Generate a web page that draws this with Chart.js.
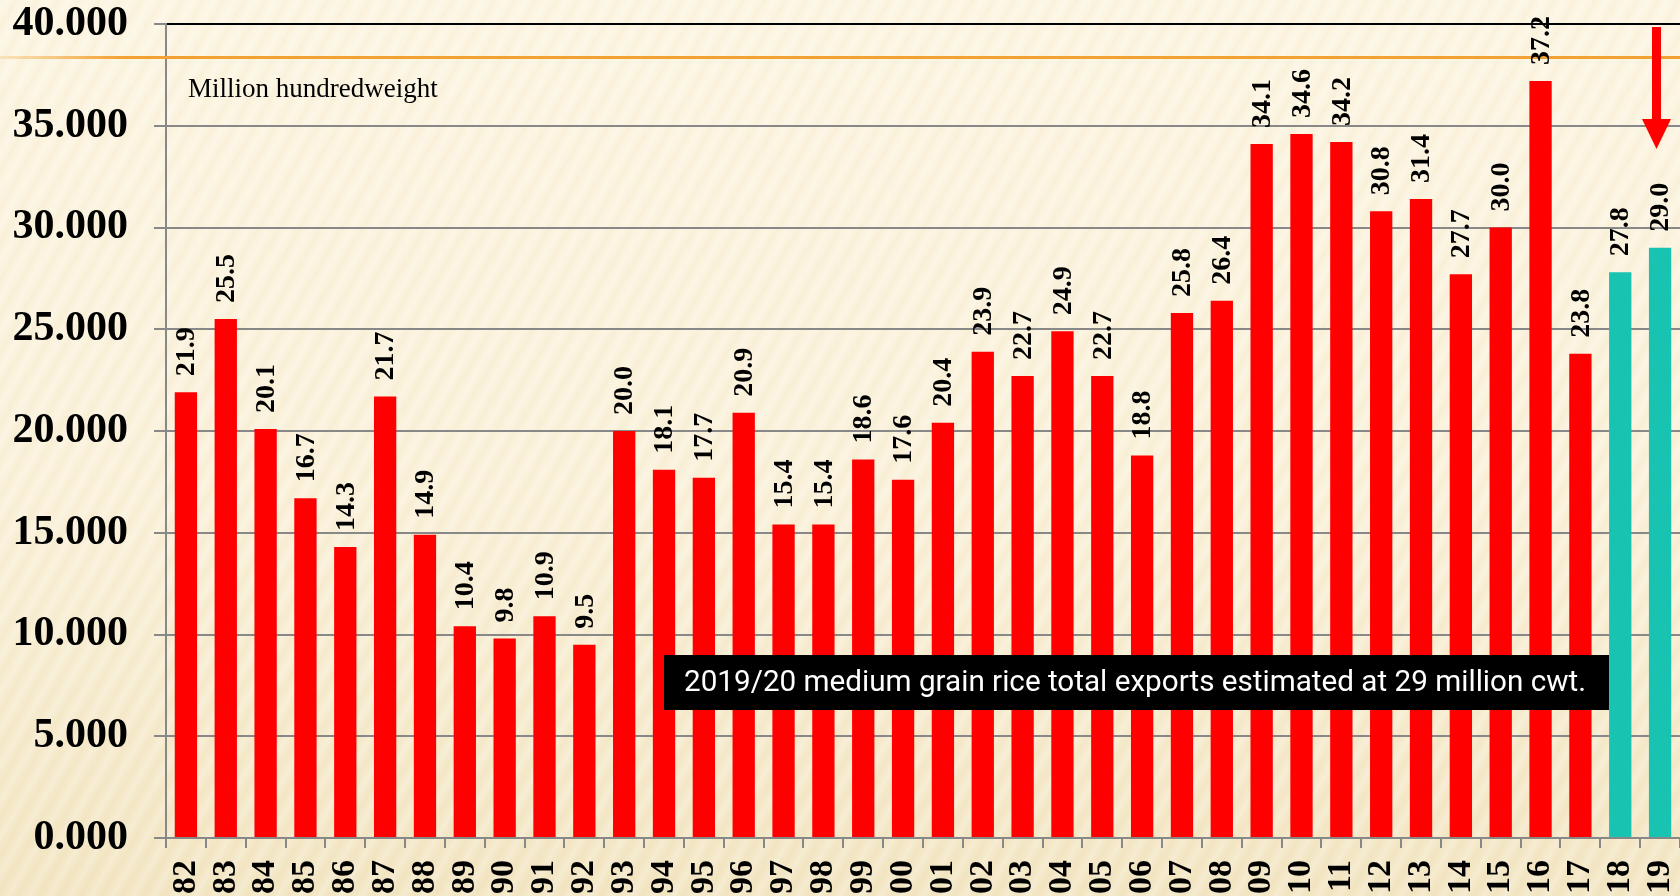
<!DOCTYPE html>
<html>
<head>
<meta charset="utf-8">
<title>Medium grain rice exports</title>
<script src="https://cdn.jsdelivr.net/npm/chart.js@4.4.1/dist/chart.umd.min.js"></script>
<style>
  html, body { margin: 0; padding: 0; }
  body {
    width: 1680px;
    height: 896px;
    overflow: hidden;
    background:
      repeating-linear-gradient(120deg, rgba(255,255,255,0.0) 0px, rgba(255,255,255,0.22) 5px, rgba(255,255,255,0.0) 10px, rgba(222,204,156,0.09) 14px, rgba(255,255,255,0.0) 18px),
      linear-gradient(180deg, #fcf5e2 0%, #faf1da 55%, #f3e6c4 100%);
  }
  #wrap { position: absolute; left: 0; top: 0; width: 1680px; height: 896px; }
</style>
</head>
<body>
<div id="wrap"><canvas id="riceExportsChart" width="1680" height="896"></canvas></div>
<script>
const years = ['82', '83', '84', '85', '86', '87', '88', '89', '90', '91', '92', '93', '94', '95', '96', '97', '98', '99',
  '00', '01', '02', '03', '04', '05', '06', '07', '08', '09', '10', '11', '12', '13', '14', '15', '16', '17', '18', '19'];
const exportsCwt = [21.9, 25.5, 20.1, 16.7, 14.3, 21.7, 14.9, 10.4, 9.8, 10.9, 9.5, 20.0, 18.1, 17.7, 20.9, 15.4, 15.4, 18.6,
  17.6, 20.4, 23.9, 22.7, 24.9, 22.7, 18.8, 25.8, 26.4, 34.1, 34.6, 34.2, 30.8, 31.4, 27.7, 30.0, 37.2, 23.8, 27.8, 29.0];
const projectedYears = ['18', '19'];
const yTicks = [0, 5, 10, 15, 20, 25, 30, 35, 40];
const unitLabel = 'Million hundredweight';
const noteText = '2019/20 medium grain rice total exports estimated at 29 million cwt.';

const RED = '#ff0000';
const TEAL = '#19c3b1';
const SERIF = '"Liberation Serif", "Times New Roman", serif';

const barColors = years.map(y => projectedYears.includes(y) ? TEAL : RED);

// value labels, rotated, sitting above each bar
const barValueLabels = {
  id: 'barValueLabels',
  afterDatasetsDraw(chart) {
    const ctx = chart.ctx;
    const meta = chart.getDatasetMeta(0);
    ctx.save();
    ctx.fillStyle = '#000';
    ctx.font = 'bold 28px ' + SERIF;
    ctx.textAlign = 'left';
    ctx.textBaseline = 'middle';
    meta.data.forEach((bar, i) => {
      ctx.save();
      ctx.translate(bar.x, bar.y - 16);
      ctx.rotate(-Math.PI / 2);
      ctx.fillText(exportsCwt[i].toFixed(1), 0, 1);
      ctx.restore();
    });
    ctx.restore();
  }
};

// slide decorations: orange rule, unit caption, note box and arrow
const decorations = {
  id: 'decorations',
  beforeDatasetsDraw(chart) {
    const ctx = chart.ctx;
    const area = chart.chartArea;
    ctx.save();
    const grad = ctx.createLinearGradient(0, 0, 120, 0);
    grad.addColorStop(0, 'rgba(242,162,51,0.2)');
    grad.addColorStop(1, 'rgba(242,162,51,1)');
    ctx.fillStyle = grad;
    ctx.fillRect(0, 56, chart.width, 3);

    ctx.fillStyle = '#000';
    ctx.font = '27px ' + SERIF;
    ctx.textAlign = 'left';
    ctx.textBaseline = 'alphabetic';
    ctx.fillText(unitLabel, area.left + 22, 97);
    ctx.restore();
  },
  afterDraw(chart) {
    const ctx = chart.ctx;
    ctx.save();
    // note box
    ctx.fillStyle = '#000';
    ctx.fillRect(664, 655, 945, 55);
    ctx.fillStyle = '#fff';
    ctx.font = '29px "Liberation Sans Narrow", Roboto, "Noto Sans", sans-serif';
    ctx.textBaseline = 'middle';
    ctx.textAlign = 'left';
    const w = ctx.measureText(noteText).width;
    const target = 902;
    ctx.translate(684, 684);
    ctx.scale(target / w, 1);
    ctx.fillText(noteText, 0, 0);
    ctx.restore();

    // downward arrow over the last bar
    ctx.save();
    ctx.fillStyle = RED;
    const ax = 1656.5;
    ctx.fillRect(ax - 4.5, 27, 9, 93);
    ctx.beginPath();
    ctx.moveTo(ax - 14.5, 119);
    ctx.lineTo(ax + 14.5, 119);
    ctx.lineTo(ax, 149);
    ctx.closePath();
    ctx.fill();
    ctx.restore();
  }
};

new Chart(document.getElementById('riceExportsChart'), {
  type: 'bar',
  data: {
    labels: years,
    datasets: [{
      data: exportsCwt,
      backgroundColor: barColors,
      borderWidth: 0,
      barPercentage: 0.56,
      categoryPercentage: 1.0
    }]
  },
  options: {
    responsive: false,
    animation: false,
    layout: { padding: { top: 24, left: 0, right: 0, bottom: 0 } },
    plugins: {
      legend: { display: false },
      tooltip: { enabled: false }
    },
    scales: {
      x: {
        afterFit: scale => {
          scale.height = 58;
          scale.paddingLeft = 0;
          scale.paddingRight = 0;
        },
        border: { display: true, color: '#888', width: 2 },
        grid: {
          offset: true,
          drawOnChartArea: false,
          drawTicks: true,
          tickLength: 10,
          color: '#888',
          lineWidth: 2
        },
        ticks: {
          autoSkip: false,
          minRotation: 90,
          maxRotation: 90,
          padding: 12,
          color: '#000',
          font: { family: SERIF, size: 34, weight: 'bold' }
        }
      },
      y: {
        min: 0,
        max: 40,
        afterFit: scale => {
          scale.width = 166;
          scale.paddingTop = 0;
          scale.paddingBottom = 0;
        },
        afterBuildTicks: scale => { scale.ticks = yTicks.map(v => ({ value: v })); },
        border: { display: true, color: '#888', width: 2 },
        grid: {
          color: c => (c.tick && c.tick.value === 40 ? '#000' : '#888'),
          tickColor: '#888',
          lineWidth: 2,
          tickLength: 12
        },
        ticks: {
          padding: 26,
          color: '#000',
          font: { family: SERIF, size: 42, weight: 'bold' },
          callback: v => v.toFixed(3)
        }
      }
    }
  },
  plugins: [decorations, barValueLabels]
});
</script>
</body>
</html>
